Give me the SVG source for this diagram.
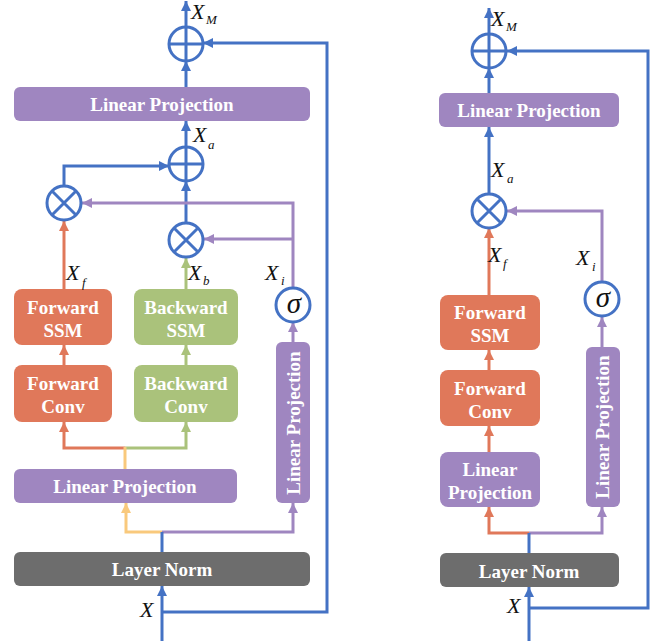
<svg xmlns="http://www.w3.org/2000/svg" width="654" height="641" viewBox="0 0 654 641">
<style>
.box{stroke:none}
.lp{fill:#9f86c0}
.fw{fill:#e0785a}
.bw{fill:#aac27b}
.ln{fill:#6d6d6d}
.bt{font-family:"Liberation Serif",serif;font-weight:bold;font-size:19px;fill:#fff;text-anchor:middle}
.lb{font-family:"Liberation Serif",serif;font-style:italic;font-size:22px;fill:#111}
.sb{font-family:"Liberation Serif",serif;font-style:italic;font-size:13px;fill:#111}
.sg{font-family:"Liberation Serif",serif;font-style:italic;font-size:29px;fill:#111;text-anchor:middle}
.c{fill:#fff;stroke:#4472c4;stroke-width:3}
.cx{stroke:#4472c4;stroke-width:3}
.w{fill:none;stroke-width:3}
.b{stroke:#4472c4}
.p{stroke:#9f86c0}
.o{stroke:#e0785a}
.g{stroke:#aac27b}
.y{stroke:#f9c97c}
</style>
<defs>
<marker id="ab" viewBox="0 0 10 10" refX="10" refY="5" markerWidth="10" markerHeight="10" markerUnits="userSpaceOnUse" orient="auto"><path d="M0,0 L10,5 L0,10 z" fill="#4472c4"/></marker>
<marker id="ap" viewBox="0 0 10 10" refX="10" refY="5" markerWidth="10" markerHeight="10" markerUnits="userSpaceOnUse" orient="auto"><path d="M0,0 L10,5 L0,10 z" fill="#9f86c0"/></marker>
<marker id="ao" viewBox="0 0 10 10" refX="10" refY="5" markerWidth="10" markerHeight="10" markerUnits="userSpaceOnUse" orient="auto"><path d="M0,0 L10,5 L0,10 z" fill="#e0785a"/></marker>
<marker id="ag" viewBox="0 0 10 10" refX="10" refY="5" markerWidth="10" markerHeight="10" markerUnits="userSpaceOnUse" orient="auto"><path d="M0,0 L10,5 L0,10 z" fill="#aac27b"/></marker>
<marker id="ay" viewBox="0 0 10 10" refX="10" refY="5" markerWidth="10" markerHeight="10" markerUnits="userSpaceOnUse" orient="auto"><path d="M0,0 L10,5 L0,10 z" fill="#f9c97c"/></marker>
</defs>

<g id="connectors">
<!-- left -->
<path class="w b" d="M186,27 V1" marker-end="url(#ab)"/>
<path class="w b" d="M186,87 V61" marker-end="url(#ab)"/>
<path class="w b" d="M186,147 V121" marker-end="url(#ab)"/>
<path class="w b" d="M64,186 V166 H169" marker-end="url(#ab)"/>
<path class="w b" d="M186,223 V181" marker-end="url(#ab)"/>
<path class="w p" d="M293,288 V203 H82" marker-end="url(#ap)"/>
<path class="w p" d="M293,239 H204" marker-end="url(#ap)"/>
<path class="w o" d="M64,289 V221" marker-end="url(#ao)"/>
<path class="w g" d="M186,289 V258" marker-end="url(#ag)"/>
<path class="w o" d="M64,365 V345" marker-end="url(#ao)"/>
<path class="w g" d="M186,365 V345" marker-end="url(#ag)"/>
<path class="w o" d="M125,448 H64 V422" marker-end="url(#ao)"/>
<path class="w g" d="M125,448 H186 V422" marker-end="url(#ag)"/>
<path class="w y" d="M125,469 V447"/>
<path class="w p" d="M293,342 V322" marker-end="url(#ap)"/>
<path class="w y" d="M162,532 H126 V503" marker-end="url(#ay)"/>
<path class="w p" d="M162,532 H293 V503" marker-end="url(#ap)"/>
<path class="w b" d="M162,552 V532"/>
<path class="w b" d="M162,641 V586" marker-end="url(#ab)"/>
<path class="w b" d="M162,612 H327 V43 H203" marker-end="url(#ab)"/>
<!-- right -->
<path class="w b" d="M489,34 V8" marker-end="url(#ab)"/>
<path class="w b" d="M489,93 V68" marker-end="url(#ab)"/>
<path class="w b" d="M489,194 V127" marker-end="url(#ab)"/>
<path class="w p" d="M602,282 V211 H507" marker-end="url(#ap)"/>
<path class="w o" d="M489,295 V228" marker-end="url(#ao)"/>
<path class="w o" d="M489,370 V350" marker-end="url(#ao)"/>
<path class="w o" d="M489,452 V426" marker-end="url(#ao)"/>
<path class="w p" d="M602,347 V317" marker-end="url(#ap)"/>
<path class="w o" d="M529,533 H489 V507" marker-end="url(#ao)"/>
<path class="w p" d="M529,533 H602 V507" marker-end="url(#ap)"/>
<path class="w b" d="M529,553 V533"/>
<path class="w b" d="M529,641 V587" marker-end="url(#ab)"/>
<path class="w b" d="M529,608 H648 V51 H507" marker-end="url(#ab)"/>
</g>

<!-- left nodes -->
<g id="L-addM"><circle class="c" cx="186" cy="44" r="17"/><path class="cx" d="M169,44 H203 M186,27 V61"/></g>
<g id="L-lp-top"><rect class="box lp" x="14" y="87" width="296" height="34" rx="6"/><text class="bt" x="162" y="111">Linear Projection</text></g>
<g id="L-adda"><circle class="c" cx="186" cy="164" r="17"/><path class="cx" d="M169,164 H203 M186,147 V181"/></g>
<g id="L-mulf"><circle class="c" cx="64" cy="203" r="17"/><path class="cx" d="M52,191 L76,215 M76,191 L52,215"/></g>
<g id="L-mulb"><circle class="c" cx="186" cy="240" r="17"/><path class="cx" d="M174,228 L198,252 M198,228 L174,252"/></g>
<g id="L-sigma"><circle class="c" cx="293" cy="305" r="17"/><text class="sg" x="294" y="313">σ</text></g>
<g id="L-fssm"><rect class="box fw" x="14" y="289" width="98" height="56" rx="8"/><text class="bt" x="63" y="314">Forward</text><text class="bt" x="63" y="337">SSM</text></g>
<g id="L-bssm"><rect class="box bw" x="134" y="289" width="104" height="56" rx="8"/><text class="bt" x="186" y="314">Backward</text><text class="bt" x="186" y="337">SSM</text></g>
<g id="L-fconv"><rect class="box fw" x="14" y="365" width="98" height="57" rx="8"/><text class="bt" x="63" y="390">Forward</text><text class="bt" x="63" y="413">Conv</text></g>
<g id="L-bconv"><rect class="box bw" x="134" y="365" width="104" height="57" rx="8"/><text class="bt" x="186" y="390">Backward</text><text class="bt" x="186" y="413">Conv</text></g>
<g id="L-lp-mid"><rect class="box lp" x="14" y="469" width="223" height="34" rx="6"/><text class="bt" x="125" y="493">Linear Projection</text></g>
<g id="L-lp-vert"><rect class="box lp" x="276" y="342" width="34" height="161" rx="6"/><text class="bt" transform="translate(300,423) rotate(-90)" x="0" y="0">Linear Projection</text></g>
<g id="L-ln"><rect class="box ln" x="14" y="552" width="296" height="34" rx="6"/><text class="bt" x="162" y="576">Layer Norm</text></g>
<g id="L-labels">
<text class="lb" x="191" y="19">X</text><text class="sb" x="206" y="24">M</text>
<text class="lb" x="193" y="142">X</text><text class="sb" x="208" y="149">a</text>
<text class="lb" x="66" y="280">X</text><text class="sb" x="82" y="287">f</text>
<text class="lb" x="188" y="280">X</text><text class="sb" x="203" y="285">b</text>
<text class="lb" x="265" y="280">X</text><text class="sb" x="281" y="285">i</text>
<text class="lb" x="140" y="617">X</text>
</g>

<!-- right nodes -->
<g id="R-addM"><circle class="c" cx="489" cy="51" r="17"/><path class="cx" d="M472,51 H506 M489,34 V68"/></g>
<g id="R-lp-top"><rect class="box lp" x="439" y="93" width="180" height="34" rx="6"/><text class="bt" x="529" y="117">Linear Projection</text></g>
<g id="R-mul"><circle class="c" cx="489" cy="211" r="17"/><path class="cx" d="M477,199 L501,223 M501,199 L477,223"/></g>
<g id="R-sigma"><circle class="c" cx="602" cy="299" r="17"/><text class="sg" x="603" y="307">σ</text></g>
<g id="R-fssm"><rect class="box fw" x="440" y="295" width="100" height="55" rx="8"/><text class="bt" x="490" y="319">Forward</text><text class="bt" x="490" y="342">SSM</text></g>
<g id="R-fconv"><rect class="box fw" x="440" y="370" width="100" height="56" rx="8"/><text class="bt" x="490" y="395">Forward</text><text class="bt" x="490" y="418">Conv</text></g>
<g id="R-lp"><rect class="box lp" x="440" y="452" width="100" height="55" rx="8"/><text class="bt" x="490" y="476">Linear</text><text class="bt" x="490" y="499">Projection</text></g>
<g id="R-lp-vert"><rect class="box lp" x="586" y="347" width="34" height="160" rx="6"/><text class="bt" transform="translate(609,427) rotate(-90)" x="0" y="0">Linear Projection</text></g>
<g id="R-ln"><rect class="box ln" x="440" y="553" width="179" height="34" rx="6"/><text class="bt" x="529" y="578">Layer Norm</text></g>
<g id="R-labels">
<text class="lb" x="491" y="26">X</text><text class="sb" x="506" y="31">M</text>
<text class="lb" x="491" y="177">X</text><text class="sb" x="507" y="183">a</text>
<text class="lb" x="488" y="262">X</text><text class="sb" x="503" y="268">f</text>
<text class="lb" x="576" y="265">X</text><text class="sb" x="592" y="271">i</text>
<text class="lb" x="507" y="613">X</text>
</g>
</svg>
